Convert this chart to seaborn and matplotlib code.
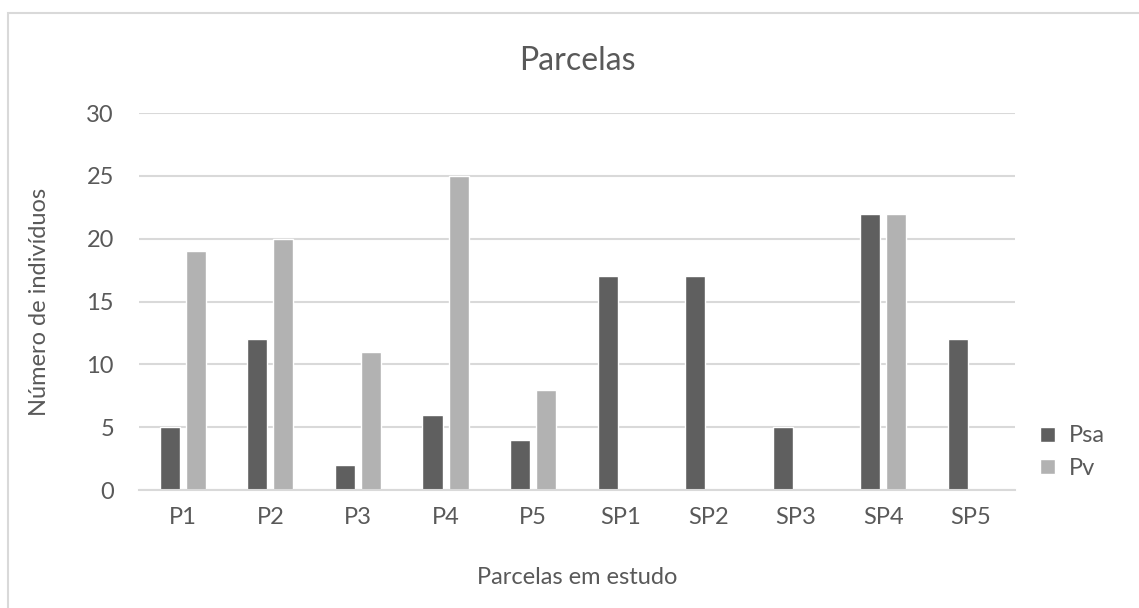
import matplotlib
matplotlib.use("Agg")
import matplotlib.pyplot as plt
from matplotlib.patches import Rectangle
import pandas as pd
import seaborn as sns

# data
parcelas = ["P1", "P2", "P3", "P4", "P5", "SP1", "SP2", "SP3", "SP4", "SP5"]
psa = [5, 12, 2, 6, 4, 17, 17, 5, 22, 12]
pv = [19, 20, 11, 25, 8, 0, 0, 0, 22, 0]
series = ["Psa", "Pv"]
y_ticks = [0, 5, 10, 15, 20, 25, 30]

TXT = "#595959"
GRID = "#d9d9d9"

df = pd.DataFrame({
    "Parcela": parcelas * 2,
    "Serie": ["Psa"] * len(parcelas) + ["Pv"] * len(parcelas),
    "Valor": psa + pv,
})

sns.set_theme(style="white")
plt.rcParams["font.family"] = ["Lato", "DejaVu Sans"]

fig = plt.figure(figsize=(11.39, 6.08), dpi=100)
ax = fig.add_axes([0.122, 0.194, 0.769, 0.620])

sns.barplot(data=df, x="Parcela", y="Valor", hue="Serie", order=parcelas,
            hue_order=series, palette=["#5f5f5f", "#b2b2b2"],
            width=0.594, gap=0.23, saturation=1, ax=ax)

ax.set_ylim(0, 30)
ax.set_yticks(y_ticks)
ax.set_xlim(-0.5, len(parcelas) - 0.5)
ax.yaxis.grid(True, color=GRID, linewidth=1.5)
ax.set_axisbelow(True)
for s in ["top", "right", "left"]:
    ax.spines[s].set_visible(False)
ax.spines["bottom"].set_color(GRID)
ax.spines["bottom"].set_linewidth(1.5)
ax.tick_params(axis="both", length=0, colors=TXT, labelsize=17)
ax.tick_params(axis="x", pad=12)
ax.tick_params(axis="y", pad=18)

ax.set_xlabel("Parcelas em estudo", color=TXT, fontsize=17, labelpad=28)
ax.set_ylabel("Número de indivíduos", color=TXT, fontsize=17, labelpad=26)
fig.text(0.507, 0.90, "Parcelas", ha="center", va="center",
         color=TXT, fontsize=23)

leg = ax.legend(loc="center left", bbox_to_anchor=(1.005, 0.10), frameon=False,
                fontsize=17, handlelength=0.6, handleheight=0.6,
                labelspacing=0.5, handletextpad=0.6)
for t in leg.get_texts():
    t.set_color(TXT)

# outer chart border (only left and top visible in the crop)
fig.patches.append(Rectangle((8 / 1139, -0.1), 1.2, (608 - 13) / 608 + 0.1,
                             transform=fig.transFigure, fill=False,
                             edgecolor=GRID, linewidth=1.5))

fig.savefig("out.png", dpi=100, facecolor="white")
